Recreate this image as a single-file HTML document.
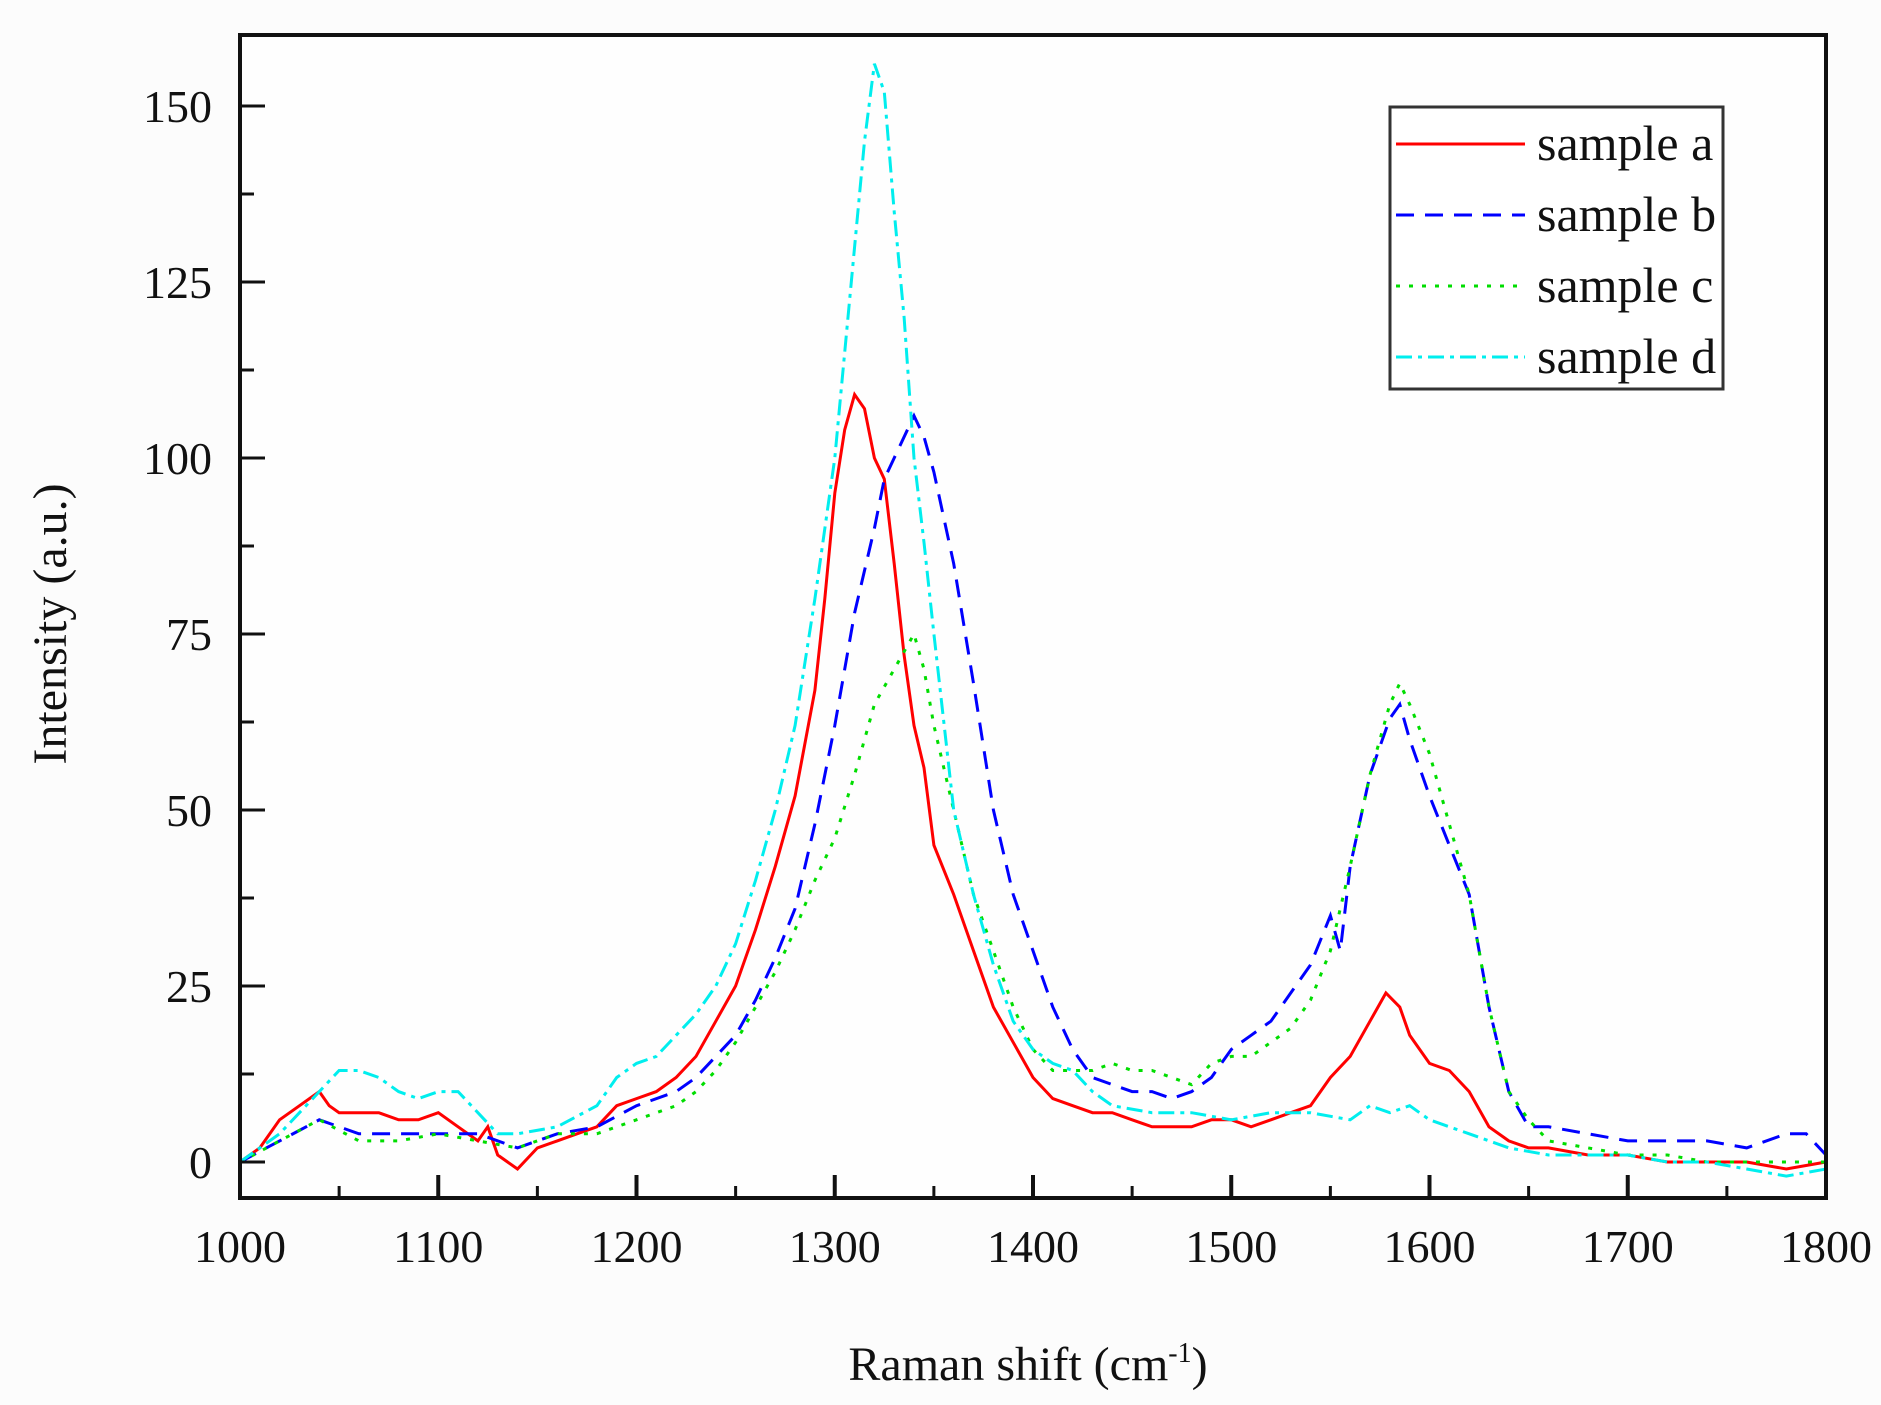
<!DOCTYPE html>
<html><head><meta charset="utf-8">
<style>
html,body{margin:0;padding:0;background:#fcfcfc;}
svg{display:block;font-family:"Liberation Serif",serif;}
</style></head>
<body>
<svg id="chart" width="1881" height="1405" viewBox="0 0 1881 1405">
<rect x="0" y="0" width="1881" height="1405" fill="#fcfcfc"/>
<rect x="240" y="35" width="1586" height="1163" fill="#fefefe"/>
<g id="series"></g>
<g id="axes"></g>
<g id="legend">
  <rect x="1390" y="107" width="333" height="282" fill="#fff" stroke="#333" stroke-width="3"/>
  <line x1="1396" y1="144" x2="1525" y2="144" stroke="#ff0000" stroke-width="3"/>
  <text x="1537" y="160" font-size="50" fill="#111">sample a</text>
  <line x1="1396" y1="215" x2="1525" y2="215" stroke="#0000ff" stroke-width="3" stroke-dasharray="18,11"/>
  <text x="1537" y="231" font-size="50" fill="#111">sample b</text>
  <line x1="1396" y1="286" x2="1525" y2="286" stroke="#00dd00" stroke-width="3" stroke-dasharray="4,9"/>
  <text x="1537" y="302" font-size="50" fill="#111">sample c</text>
  <line x1="1396" y1="357" x2="1525" y2="357" stroke="#00eeee" stroke-width="3" stroke-dasharray="16,6,4,6"/>
  <text x="1537" y="373" font-size="50" fill="#111">sample d</text>
</g>
<text x="1028" y="1380" font-size="48" text-anchor="middle" fill="#111">Raman shift (cm<tspan dy="-18" font-size="28">-1</tspan><tspan dy="18">)</tspan></text>
<text transform="translate(66,624) rotate(-90)" font-size="48" text-anchor="middle" fill="#111">Intensity (a.u.)</text>
</svg>
<script>
const xTicks=[1000,1100,1200,1300,1400,1500,1600,1700,1800];
const yTicks=[0,25,50,75,100,125,150];
const shiftA=[1000,1010,1020,1030,1040,1045,1050,1060,1070,1080,1090,1100,1110,1120,1125,1130,1140,1150,1160,1170,1180,1190,1200,1210,1220,1230,1240,1250,1260,1270,1280,1290,1295,1300,1305,1310,1315,1320,1325,1330,1335,1340,1345,1350,1360,1370,1380,1390,1400,1410,1420,1430,1440,1450,1460,1470,1480,1490,1500,1510,1520,1530,1540,1550,1560,1570,1578,1585,1590,1600,1610,1620,1630,1640,1650,1660,1680,1700,1720,1740,1760,1780,1800];
const intA=[0,2,6,8,10,8,7,7,7,6,6,7,5,3,5,1,-1,2,3,4,5,8,9,10,12,15,20,25,33,42,52,67,80,95,104,109,107,100,97,85,72,62,56,45,38,30,22,17,12,9,8,7,7,6,5,5,5,6,6,5,6,7,8,12,15,20,24,22,18,14,13,10,5,3,2,2,1,1,0,0,0,-1,0];
const shiftB=[1000,1020,1040,1050,1060,1080,1100,1120,1140,1160,1180,1200,1220,1230,1240,1250,1260,1270,1280,1290,1300,1310,1320,1325,1330,1340,1345,1350,1360,1370,1380,1390,1400,1410,1420,1430,1440,1450,1460,1470,1480,1490,1500,1510,1520,1530,1540,1550,1555,1560,1570,1580,1585,1590,1600,1610,1620,1630,1640,1650,1660,1680,1700,1720,1740,1760,1780,1790,1800];
const intB=[0,3,6,5,4,4,4,4,2,4,5,8,10,12,15,18,23,29,36,48,62,78,90,97,100,106,103,98,85,68,50,38,30,22,16,12,11,10,10,9,10,12,16,18,20,24,28,35,30,42,55,63,65,60,52,45,38,22,10,5,5,4,3,3,3,2,4,4,1];
const shiftC=[1000,1020,1040,1060,1080,1100,1120,1140,1160,1180,1200,1220,1230,1240,1250,1260,1270,1280,1290,1300,1310,1320,1330,1340,1345,1350,1360,1370,1380,1390,1400,1410,1420,1430,1440,1450,1460,1470,1480,1490,1500,1510,1520,1530,1540,1550,1560,1570,1580,1585,1590,1600,1610,1620,1630,1640,1650,1660,1680,1700,1720,1740,1760,1780,1800];
const intC=[0,3,6,3,3,4,3,2,4,4,6,8,10,13,17,22,27,33,40,46,55,65,70,75,70,62,50,38,30,22,16,13,13,13,14,13,13,12,11,14,15,15,17,19,23,30,42,55,65,68,65,58,48,38,22,10,6,3,2,1,1,0,0,0,0];
const shiftD=[1000,1020,1040,1050,1060,1070,1080,1090,1100,1110,1120,1130,1140,1160,1180,1190,1200,1210,1220,1230,1240,1250,1260,1270,1280,1290,1300,1305,1310,1315,1320,1325,1330,1335,1340,1345,1350,1360,1370,1380,1390,1400,1410,1420,1430,1440,1460,1480,1500,1520,1540,1560,1570,1580,1590,1600,1610,1620,1640,1660,1680,1700,1720,1740,1760,1780,1800];
const intD=[0,4,10,13,13,12,10,9,10,10,7,4,4,5,8,12,14,15,18,21,25,31,40,50,62,80,100,115,130,145,156,152,135,120,100,88,75,50,38,28,20,16,14,13,10,8,7,7,6,7,7,6,8,7,8,6,5,4,2,1,1,1,0,0,-1,-2,-1];

const X0=240,X1=1826,Y0=1162,YPER=176/25;
function xs(v){return X0+(v-1000)*(X1-X0)/800;}
function ys(v){return Y0-v*YPER;}
const NS="http://www.w3.org/2000/svg";
const series=document.getElementById('series');
function drawLine(xsArr,ysArr,color,dash,name){
  const p=document.createElementNS(NS,'polyline');
  p.setAttribute('points',xsArr.map((x,i)=>xs(x).toFixed(1)+','+ys(ysArr[i]).toFixed(1)).join(' '));
  p.setAttribute('fill','none');p.setAttribute('stroke',color);p.setAttribute('stroke-width','3');
  if(dash)p.setAttribute('stroke-dasharray',dash);
  
  
  series.appendChild(p);
}
drawLine(shiftA,intA,'#ff0000',null,'sample-a-line');
drawLine(shiftB,intB,'#0000ff','18,11','sample-b-line');
drawLine(shiftC,intC,'#00dd00','4,9','sample-c-line');
drawLine(shiftD,intD,'#00eeee','16,6,4,6','sample-d-line');

const axes=document.getElementById('axes');
function mk(tag,attrs){const e=document.createElementNS(NS,tag);for(const k in attrs)e.setAttribute(k,attrs[k]);axes.appendChild(e);return e;}
const frame=mk('rect',{x:X0,y:35,width:X1-X0,height:1198-35,fill:'none',stroke:'#111','stroke-width':4});


xTicks.forEach((t,i)=>{
  const l=mk('line',{x1:xs(t),x2:xs(t),y1:1198,y2:1175,stroke:'#111','stroke-width':4});
  
  
  if(i<xTicks.length-1){
    const m=mk('line',{x1:xs(t+50),x2:xs(t+50),y1:1198,y2:1186,stroke:'#111','stroke-width':3});
    
    
  }
  const tx=mk('text',{x:xs(t),y:1262,'font-size':46,'text-anchor':'middle',fill:'#111'});
  tx.textContent=t;
  
  
});
yTicks.forEach((t,i)=>{
  const l=mk('line',{x1:X0,x2:X0+25,y1:ys(t),y2:ys(t),stroke:'#111','stroke-width':3});
  
  
  if(ys(t+12.5)>40){
    const m=mk('line',{x1:X0,x2:X0+14,y1:ys(t+12.5),y2:ys(t+12.5),stroke:'#111','stroke-width':3});
    
    
  }
  const tx=mk('text',{x:212,y:ys(t)+16,'font-size':46,'text-anchor':'end',fill:'#111'});
  tx.textContent=t;
  
  
});
</script>
</body></html>
